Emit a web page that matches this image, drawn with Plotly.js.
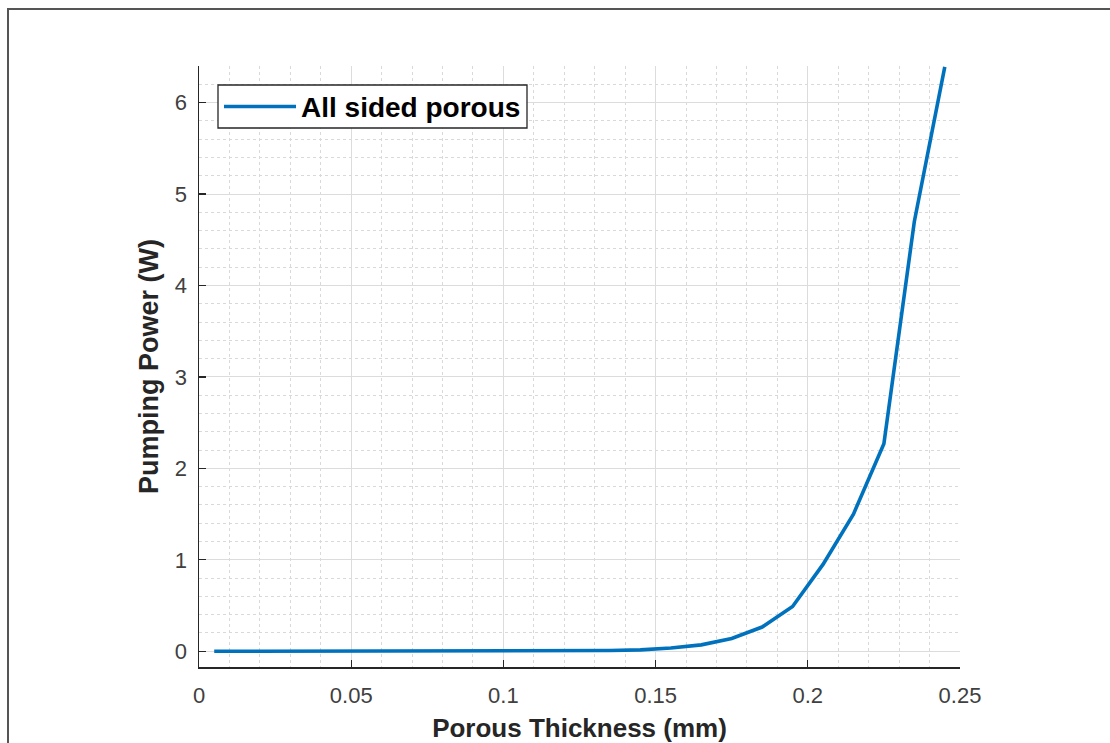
<!DOCTYPE html>
<html>
<head>
<meta charset="utf-8">
<script src="https://cdn.plot.ly/plotly-3.0.1.min.js"></script>
<style>
  html, body { margin: 0; padding: 0; background: #ffffff; }
  #chart { width: 1110px; height: 743px; position: relative; }
  #frame { position: absolute; left: 7px; top: 8px; width: 1110px; height: 800px;
           border-left: 2px solid #555555; border-top: 2px solid #555555; pointer-events: none; }
</style>
</head>
<body>
<div id="chart"></div>
<div id="frame"></div>
<script>
// Porous thickness (mm)
const thickness = [0.005, 0.015, 0.025, 0.035, 0.045, 0.055, 0.065, 0.075, 0.085, 0.095,
                   0.105, 0.115, 0.125, 0.135, 0.145, 0.155, 0.165, 0.175, 0.185, 0.195,
                   0.205, 0.215, 0.225, 0.235, 0.245];
// Pumping power (W)
const pumpingPower = [0, 0, 0, 0, 0, 0.0001, 0.0001, 0.0002, 0.0004, 0.0007,
                      0.0013, 0.0025, 0.0045, 0.008, 0.015, 0.035, 0.07, 0.14, 0.265, 0.49,
                      0.95, 1.5, 2.27, 4.7, 6.39];
const seriesName = 'All sided porous';
const xTicks = [0, 0.05, 0.1, 0.15, 0.2, 0.25];
const xTickText = ['0', '0.05', '0.1', '0.15', '0.2', '0.25'];
const yTicks = [0, 1, 2, 3, 4, 5, 6];

const plotLeft = 199, plotRight = 960, plotTop = 66, plotBottom = 667;
const W = 1110, H = 743;
const pw = plotRight - plotLeft, ph = plotBottom - plotTop;
const px = v => (v - plotLeft) / pw;
const py = v => (plotBottom - v) / ph;

const trace = {
  x: thickness, y: pumpingPower, type: 'scatter', mode: 'lines', name: seriesName,
  line: { color: '#0072BD', width: 3.6 }, showlegend: false
};

const axisCommon = {
  showline: true, linecolor: '#262626', linewidth: 1.5, mirror: false,
  ticks: 'inside', ticklen: 7, tickwidth: 1.3, tickcolor: '#262626',
  showgrid: true, gridcolor: '#dcdcdc', gridwidth: 1, zeroline: false,
  tickfont: { family: 'Liberation Sans, Arial, sans-serif', size: 22, color: '#404040' }
};

const layout = {
  width: W, height: H,
  paper_bgcolor: '#ffffff', plot_bgcolor: '#ffffff',
  margin: { l: plotLeft, r: W - plotRight, t: plotTop, b: H - plotBottom, pad: 0 },
  showlegend: false,
  xaxis: Object.assign({}, axisCommon, {
    range: [0, 0.25], tickvals: xTicks, ticktext: xTickText,
    ticklabelstandoff: 8,
    minor: { dtick: 0.01, showgrid: true, gridcolor: '#d9d9d9', griddash: '3px,3px', gridwidth: 1, ticks: '' },
    title: { text: '<b>Porous Thickness (mm)</b>', standoff: 14,
             font: { family: 'Liberation Sans, Arial, sans-serif', size: 26, color: '#262626' } }
  }),
  yaxis: Object.assign({}, axisCommon, {
    range: [-0.172, 6.40], tickvals: yTicks,
    ticklabelstandoff: 6,
    minor: { dtick: 0.2, showgrid: true, gridcolor: '#d9d9d9', griddash: '3px,3px', gridwidth: 1, ticks: '' },
    title: { text: '<b>Pumping Power (W)</b>', standoff: 8,
             font: { family: 'Liberation Sans, Arial, sans-serif', size: 27, color: '#262626' } }
  }),
  shapes: [
    { type: 'rect', xref: 'paper', yref: 'paper',
      x0: px(218), x1: px(527), y0: py(128), y1: py(85),
      line: { color: '#262626', width: 1.3 }, fillcolor: '#ffffff', layer: 'above' },
    { type: 'line', xref: 'paper', yref: 'paper',
      x0: px(224), x1: px(296), y0: py(106.5), y1: py(106.5),
      line: { color: '#0072BD', width: 3.6 }, layer: 'above' }
  ],
  annotations: [
    { xref: 'paper', yref: 'paper', x: px(299), y: py(107), xanchor: 'left', yanchor: 'middle',
      showarrow: false, text: '<b>' + seriesName + '</b>',
      font: { family: 'Liberation Sans, Arial, sans-serif', size: 28, color: '#000000' } }
  ]
};

Plotly.newPlot('chart', [trace], layout, { displayModeBar: false, staticPlot: true });
</script>
</body>
</html>
